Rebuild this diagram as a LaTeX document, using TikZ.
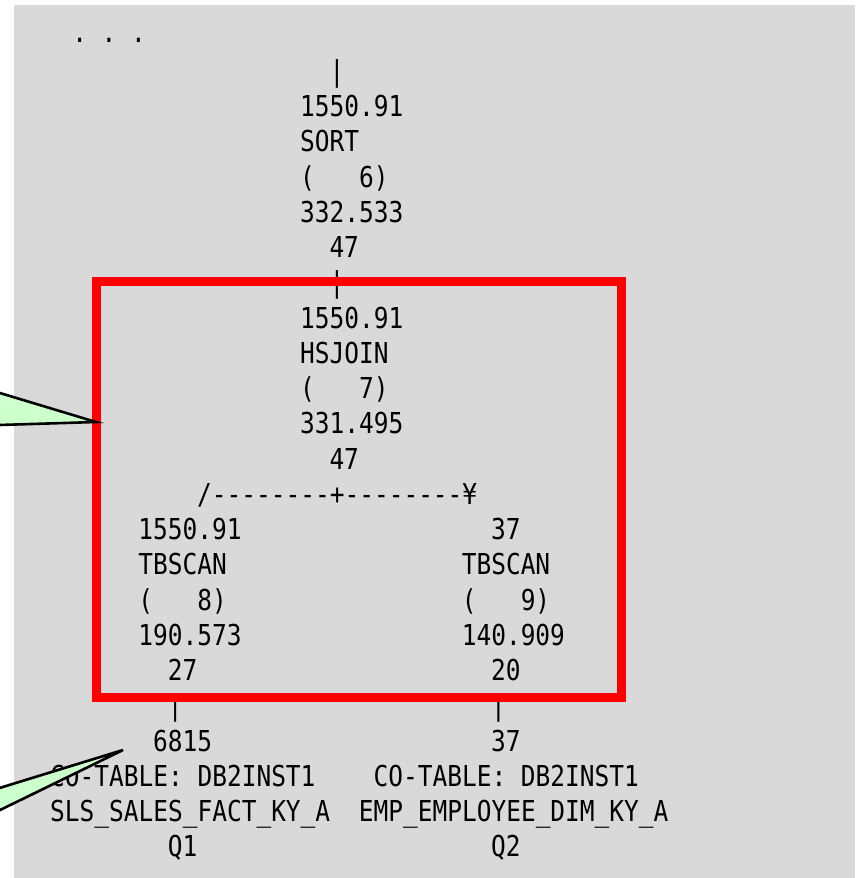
\documentclass[tikz,border=0pt]{standalone}
\usepackage{fontspec}
\newfontfamily\planfont[FakeStretch=0.85,Ligatures=TeXOff]{DejaVu Sans Mono}
\definecolor{plangray}{HTML}{D9D9D9}
\definecolor{notegreen}{HTML}{CCFFCC}
\tikzset{
  plan/.style={anchor=base west, inner sep=0pt, font=\planfont\fontsize{28.8}{35}\selectfont},
  frame/.style={draw=red, line width=9pt},
  note/.style={draw=black, line width=2.6pt, fill=notegreen},
}
\begin{document}
\begin{tikzpicture}[x=1pt,y=-1pt]
 \useasboundingbox (0,0) rectangle (855,878);
 \fill[plangray] (14,5) rectangle (855,878);
 % plan text, one node per line, column/row grid
 \begin{scope}[shift={(50pt,-46pt)},x=14.7pt,y=-35.25pt]
  \node[plan] (dots) at (1.5,-0.1) {.~.~.};
  \node[plan] (pipetop) at (19,1) {|};
  \node[plan] (sortrows) at (17,2) {1550.91};
  \node[plan] (sortop) at (17,3) {SORT};
  \node[plan] (sortid) at (17,4) {(~~~6)};
  \node[plan] (sortcost) at (17,5) {332.533};
  \node[plan] (sortio) at (19,6) {47};
  \node[plan] (pipemid) at (19,7) {|};
  \node[plan] (joinrows) at (17,8) {1550.91};
  \node[plan] (joinop) at (17,9) {HSJOIN};
  \node[plan] (joinid) at (17,10) {(~~~7)};
  \node[plan] (joincost) at (17,11) {331.495};
  \node[plan] (joinio) at (19,12) {47};
  \node[plan] (branch) at (10,13) {/--------+--------¥};
  \node[plan] (lrows) at (6,14) {1550.91};
  \node[plan] (lop) at (6,15) {TBSCAN};
  \node[plan] (lid) at (6,16) {(~~~8)};
  \node[plan] (lcost) at (6,17) {190.573};
  \node[plan] (lio) at (8,18) {27};
  \node[plan] (rrows) at (30,14) {37};
  \node[plan] (rop) at (28,15) {TBSCAN};
  \node[plan] (rid) at (28,16) {(~~~9)};
  \node[plan] (rcost) at (28,17) {140.909};
  \node[plan] (rio) at (30,18) {20};
  \node[plan] (lpipe) at (8,19) {|};
  \node[plan] (rpipe) at (30,19) {|};
  \node[plan] (ltrows) at (7,20) {6815};
  \node[plan] (ltschema) at (0,21) {CO-TABLE: DB2INST1};
  \node[plan] (ltname) at (0,22) {SLS\_SALES\_FACT\_KY\_A};
  \node[plan] (ltq) at (8,23) {Q1};
  \node[plan] (rtrows) at (30,20) {37};
  \node[plan] (rtschema) at (22,21) {CO-TABLE: DB2INST1};
  \node[plan] (rtname) at (21,22) {EMP\_EMPLOYEE\_DIM\_KY\_A};
  \node[plan] (rtq) at (30,23) {Q2};
 \end{scope}
 % highlight and callouts
 \draw[frame] (96,281) rectangle (621,697);
 \filldraw[note] (-20,387) -- (96,422) -- (-20,425.6) -- cycle;
 \filldraw[note] (-20,794) -- (123,750) -- (-20,819.8) -- cycle;
\end{tikzpicture}
\end{document}
